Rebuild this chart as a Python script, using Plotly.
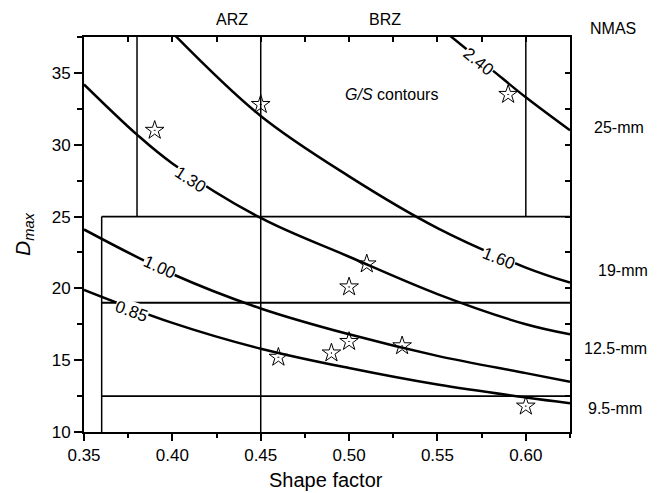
import plotly.graph_objects as go

# ---- data ----
# G/S contour lines (shape factor, Dmax)
gs_levels = ["0.85", "1.00", "1.30", "1.60", "2.40"]
c085_x = [0.35, 0.40, 0.45, 0.50, 0.55, 0.60, 0.625]
c085_y = [19.9, 17.6, 15.8, 14.45, 13.3, 12.4, 12.0]
c100_x = [0.35, 0.40, 0.45, 0.50, 0.55, 0.60, 0.625]
c100_y = [24.1, 21.0, 18.6, 16.8, 15.3, 14.1, 13.5]
c130_x = [0.35, 0.38, 0.40, 0.45, 0.50, 0.55, 0.60, 0.625]
c130_y = [34.2, 30.7, 28.7, 24.9, 22.2, 19.6, 17.5, 16.8]
c160_x = [0.40, 0.45, 0.50, 0.55, 0.60, 0.625]
c160_y = [37.8, 32.0, 27.8, 24.2, 21.45, 20.4]
c240_x = [0.555, 0.58, 0.60, 0.625]
c240_y = [37.8, 35.3, 33.3, 31.0]

# label positions of contour values (x, y)
lab_x = [0.377, 0.393, 0.410, 0.5845, 0.573]
lab_y = [18.4, 21.45, 27.6, 22.05, 35.8]
lab_ang = [20, 24, 33, 22, 39]

# measured specimens
pts_x = [0.39, 0.45, 0.59, 0.51, 0.50, 0.50, 0.49, 0.53, 0.46, 0.60]
pts_y = [31.0, 32.8, 33.5, 21.7, 20.1, 16.3, 15.5, 16.0, 15.2, 11.8]

# zone boundaries
v_lines = [(0.38, 25, 37.5), (0.45, 10, 37.5), (0.60, 25, 37.5), (0.36, 10, 25)]
h_lines = [(25, 0.36, 0.625), (19, 0.36, 0.625), (12.5, 0.36, 0.625)]

x_ticks = [0.35, 0.40, 0.45, 0.50, 0.55, 0.60]
y_ticks = [10, 15, 20, 25, 30, 35]
x_range = [0.35, 0.625]
y_range = [10, 37.5]

nmas_labels = ["25-mm", "19-mm", "12.5-mm", "9.5-mm"]
zone_labels = ["ARZ", "BRZ", "NMAS"]

FONT = "Liberation Sans, Arial, sans-serif"
W, H = 665, 493
L, R, T, B = 84, 95, 37, 61
PW, PH = W - L - R, H - T - B


def px(xp):
    return (xp - L) / PW


def py(yp):
    return (H - B - yp) / PH


fig = go.Figure()

curves = [(c085_x, c085_y), (c100_x, c100_y), (c130_x, c130_y),
          (c160_x, c160_y), (c240_x, c240_y)]
for (cx, cy), lev in zip(curves, gs_levels):
    fig.add_trace(go.Scatter(x=cx, y=cy, mode="lines", name=lev,
                             line=dict(color="black", width=2.5, shape="spline", smoothing=1.0),
                             hoverinfo="skip", showlegend=False))

for xv, y0, y1 in v_lines:
    fig.add_shape(type="line", x0=xv, x1=xv, y0=y0, y1=y1, xref="x", yref="y",
                  line=dict(color="black", width=1.5), layer="above")
for yv, x0, x1 in h_lines:
    fig.add_shape(type="line", x0=x0, x1=x1, y0=yv, y1=yv, xref="x", yref="y",
                  line=dict(color="black", width=1.8), layer="above")

fig.add_trace(go.Scatter(x=pts_x, y=pts_y, mode="markers", showlegend=False,
                         marker=dict(symbol="star-open-dot", size=14, color="black",
                                     line=dict(width=1, color="black"))))

# invisible trace for the mirrored axes
fig.add_trace(go.Scatter(x=x_range, y=y_range, xaxis="x2", yaxis="y2", mode="markers",
                         marker=dict(opacity=0), showlegend=False, hoverinfo="skip"))

for t, xv, yv, a in zip(gs_levels, lab_x, lab_y, lab_ang):
    fig.add_annotation(x=xv, y=yv, xref="x", yref="y", text=t, showarrow=False,
                       textangle=a, bgcolor="white", borderpad=0,
                       xanchor="center", yanchor="middle",
                       font=dict(family=FONT, size=17, color="black"))

fig.add_annotation(x=0.524, y=33.5, xref="x", yref="y", text="<i>G/S</i> contours",
                   showarrow=False, xanchor="center", yanchor="middle",
                   font=dict(family=FONT, size=16, color="black"))

for t, xp, yp in zip(zone_labels, [232, 385, 613], [20, 20, 28]):
    fig.add_annotation(x=px(xp), y=py(yp), xref="paper", yref="paper", text=t,
                       showarrow=False, xanchor="center", yanchor="middle",
                       font=dict(family=FONT, size=16, color="black"))
for t, xp, yp in zip(nmas_labels, [619, 623, 615, 615], [127, 270, 348, 408]):
    fig.add_annotation(x=px(xp), y=py(yp), xref="paper", yref="paper", text=t,
                       showarrow=False, xanchor="center", yanchor="middle",
                       font=dict(family=FONT, size=16, color="black"))

fig.add_annotation(x=px(326), y=py(480), xref="paper", yref="paper", text="Shape factor",
                   showarrow=False, xanchor="center", yanchor="middle",
                   font=dict(family=FONT, size=20, color="black"))
fig.add_annotation(x=px(24), y=py(234), xref="paper", yref="paper",
                   text="<i>D</i><sub><i>max</i></sub>", textangle=-90,
                   showarrow=False, xanchor="center", yanchor="middle",
                   font=dict(family=FONT, size=21, color="black"))

axis_common = dict(showgrid=False, zeroline=False, showline=True, linecolor="black",
                   linewidth=2, tickcolor="black", tickwidth=1.5)

fig.update_layout(
    width=W, height=H, margin=dict(l=L, r=R, t=T, b=B),
    paper_bgcolor="white", plot_bgcolor="white", showlegend=False,
    font=dict(family=FONT, size=16, color="black"),
    xaxis=dict(range=x_range, tickvals=x_ticks, ticktext=[f"{v:.2f}" for v in x_ticks],
               ticks="outside", ticklen=7,
               minor=dict(tickvals=[0.375, 0.425, 0.475, 0.525, 0.575, 0.625],
                          ticks="outside", ticklen=4, tickcolor="black", tickwidth=1.5),
               tickfont=dict(family=FONT, size=17), **axis_common),
    yaxis=dict(range=y_range, tickvals=y_ticks, ticktext=[str(v) for v in y_ticks],
               ticks="outside", ticklen=8,
               minor=dict(tickvals=[12.5, 17.5, 22.5, 27.5, 32.5, 37.5],
                          ticks="outside", ticklen=5, tickcolor="black", tickwidth=1.5),
               tickfont=dict(family=FONT, size=17), **axis_common),
    xaxis2=dict(range=x_range, overlaying="x", side="top", anchor="y",
                tickvals=x_ticks + [0.375, 0.425, 0.475, 0.525, 0.575],
                ticks="inside", ticklen=5, showticklabels=False, **axis_common),
    yaxis2=dict(range=y_range, overlaying="y", side="right", anchor="x",
                tickvals=y_ticks + [12.5, 17.5, 22.5, 27.5, 32.5, 37.5],
                ticks="inside", ticklen=5, showticklabels=False, **axis_common),
)

fig.write_html("out.html")
